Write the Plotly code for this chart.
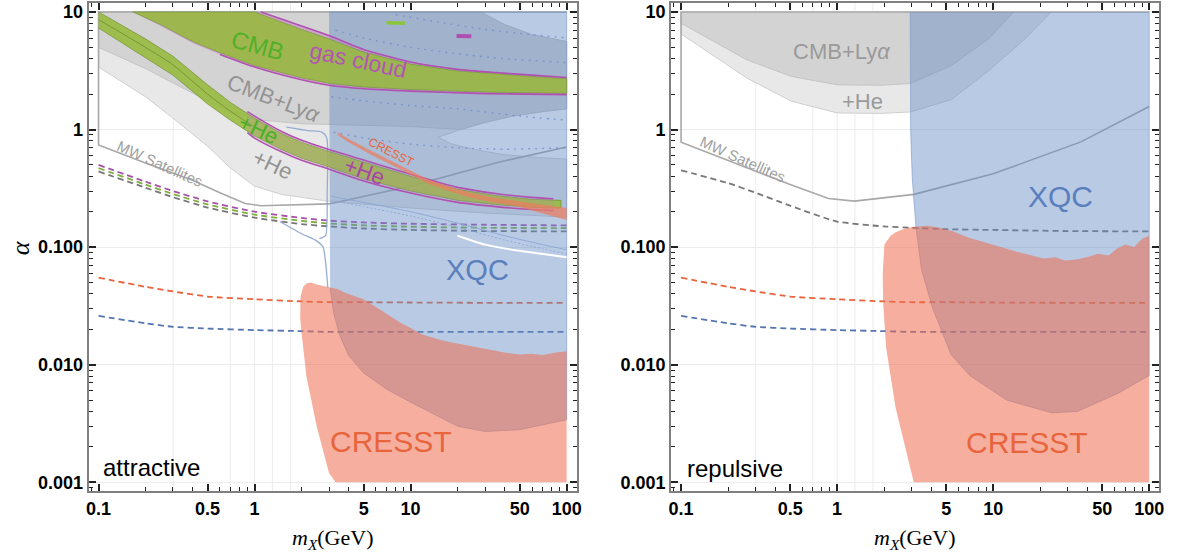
import math
import plotly.graph_objects as go

# ---------------- data ----------------
X_TICKS = [0.1, 0.5, 1, 5, 10, 50, 100]
X_TICK_TEXT = ["0.1", "0.5", "1", "5", "10", "50", "100"]
Y_TICKS = [0.001, 0.01, 0.1, 1, 10]
Y_TICK_TEXT = ["0.001", "0.010", "0.100", "1", "10"]
GRID_X = [0.5, 1, 2, 5, 10, 20, 50]

# dashed curves (both panels share x samples)
DASH_X = [0.1, 0.2, 0.3, 0.5, 1, 2, 3, 5, 10, 30, 100]
ORANGE_DASH = [0.055, 0.046, 0.042, 0.038, 0.036, 0.0345, 0.034, 0.034, 0.0338, 0.0336, 0.0335]
BLUE_DASH = [0.026, 0.0225, 0.021, 0.0203, 0.0197, 0.0193, 0.019, 0.019, 0.019, 0.019, 0.019]
PURPLE_DASH_L = [0.50, 0.36, 0.30, 0.245, 0.20, 0.177, 0.168, 0.162, 0.158, 0.155, 0.153]
GREEN_DASH_L = [0.47, 0.34, 0.283, 0.231, 0.189, 0.167, 0.159, 0.153, 0.149, 0.146, 0.145]
GRAY_DASH_L = [0.44, 0.32, 0.266, 0.217, 0.178, 0.157, 0.15, 0.144, 0.14, 0.137, 0.136]
GRAY_DASH_R = [0.45, 0.35, 0.29, 0.225, 0.165, 0.15, 0.146, 0.142, 0.14, 0.137, 0.136]

# MW satellites curves
MW_L_X = [0.1, 0.2, 0.4, 0.6, 0.87, 1.1, 3, 10, 35, 100]
MW_L_Y = [0.74, 0.52, 0.37, 0.29, 0.235, 0.225, 0.233, 0.33, 0.52, 0.71]
MW_R_X = [0.1, 0.265, 0.5, 0.88, 1.29, 3.11, 10, 36.5, 100]
MW_R_Y = [0.78, 0.47, 0.34, 0.259, 0.246, 0.281, 0.42, 0.785, 1.57]

# ---- attractive panel: CMB+Ly-alpha (+He) gray regions
CUT_X = [28, 40, 60, 100]
CUT_Y = [10, 7.8, 6.4, 5.6]
ELL_TOP_X = [100, 70, 45, 30, 21, 15]
ELL_TOP_Y = [1.5, 1.42, 1.3, 1.15, 1.0, 0.86]
ELL_BOT_X = [18, 25, 40, 70, 100]
ELL_BOT_Y = [0.76, 0.68, 0.61, 0.575, 0.56]
HE_LO_X = [0.1, 0.2, 0.3, 0.5, 0.7, 1, 1.5, 2, 3, 10, 30, 100]
HE_LO_Y = [3.4, 1.9, 1.25, 0.72, 0.47, 0.33, 0.28, 0.265, 0.245, 0.215, 0.195, 0.18]
DARK_LO_X = [0.1, 0.2, 0.3, 0.5, 0.7, 1, 2, 3, 10]
DARK_LO_Y = [5.0, 3.3, 2.5, 1.75, 1.4, 1.22, 1.12, 1.1, 1.06]

# ---- attractive: CMB / gas cloud upper band
GAS1_UP_X = [1.1, 2, 3, 5, 10, 20, 35, 60, 100]
GAS1_UP_Y = [10, 7.6, 6.3, 4.8, 3.75, 3.25, 3.05, 2.9, 2.77]
GAS1_LO_X = [0.166, 0.25, 0.4, 0.6, 1, 2, 3, 5, 10, 30, 100]
GAS1_LO_Y = [10, 7.6, 5.45, 4.35, 3.4, 2.65, 2.38, 2.22, 2.12, 2.02, 1.98]
GREEN1_UP_X = [1.0, 2, 3, 5, 10, 20, 35, 60, 100]
GREEN1_UP_Y = [10, 7.1, 5.9, 4.55, 3.6, 3.15, 2.97, 2.83, 2.7]
GREEN1_LO_Y = [10, 7.8, 5.6, 4.5, 3.5, 2.75, 2.47, 2.3, 2.19, 2.08, 2.03]

# ---- attractive: +He lower band
LB_X = [0.1, 0.2, 0.3, 0.5, 0.7, 1, 1.5, 2, 3, 5, 10, 20, 35, 60, 92]
LB_UP = [10, 5.9, 4.2, 2.4, 1.7, 1.25, 0.92, 0.78, 0.65, 0.53, 0.4, 0.31, 0.275, 0.255, 0.25]
LB_LO = [7.3, 4.1, 2.9, 1.65, 1.2, 0.88, 0.67, 0.57, 0.48, 0.38, 0.3, 0.25, 0.23, 0.218, 0.215]
LB_MID_X = [0.1, 0.2, 0.3, 0.5, 0.7, 1]
LB_MID_Y = [8.6, 5.0, 3.55, 2.0, 1.43, 1.05]
GAS2_X = [0.9, 1, 1.5, 2, 3, 5, 10, 20, 35, 60, 82]
GAS2_UP = [1.42, 1.3, 0.957, 0.81, 0.676, 0.551, 0.416, 0.322, 0.286, 0.265, 0.258]
GAS2_LO = [0.94, 0.845, 0.643, 0.547, 0.46, 0.365, 0.288, 0.24, 0.221, 0.209, 0.205]

# ---- attractive: CRESST streak
STREAK_X = [3.4, 4, 5.5, 8, 13, 18, 24, 35, 47, 65, 80, 100]
STREAK_UP = [0.95, 0.83, 0.665, 0.52, 0.375, 0.325, 0.29, 0.262, 0.248, 0.232, 0.222, 0.215]
STREAK_LO = [0.9, 0.78, 0.615, 0.48, 0.345, 0.297, 0.263, 0.238, 0.224, 0.2, 0.185, 0.17]

# ---- attractive: XQC & CRESST
XQC_L_X = [3.0, 100, 100, 50, 30, 20, 10, 7, 5, 4, 3.5, 3.2, 3.05]
XQC_L_Y = [10, 10, 0.0034, 0.0028, 0.0027, 0.003, 0.0048, 0.0062, 0.0085, 0.012, 0.018, 0.028, 0.045]
CR_L_TOP_X = [1.97, 2.05, 2.15, 2.3, 2.5, 2.7, 3.0, 3.4, 3.8, 4.4, 5, 6, 7, 8.5, 10, 12, 15, 18,
              22, 27, 33, 40, 50, 60, 70, 85, 100]
CR_L_TOP_Y = [0.038, 0.046, 0.049, 0.05, 0.048, 0.047, 0.045, 0.044, 0.041, 0.038, 0.036, 0.031,
              0.027, 0.023, 0.0205, 0.018, 0.0165, 0.0155, 0.0148, 0.014, 0.0133, 0.0127, 0.0122,
              0.0124, 0.0121, 0.0127, 0.013]
CR_L_SIDE_X = [1.97, 1.96, 2.0, 2.15, 2.5, 3.0, 3.3]
CR_L_SIDE_Y = [0.038, 0.025, 0.0186, 0.0079, 0.003, 0.0012, 0.001]

# XQC auxiliary contours (attractive)
XC1_X = [1.45, 2, 2.5, 2.75, 2.85, 2.95]
XC1_Y = [0.165, 0.13, 0.113, 0.1, 0.075, 0.045]
XC2_X = [2.6, 2.85, 2.92, 2.9, 2.7, 2.2, 1.6]
XC2_Y = [0.118, 0.125, 0.3, 0.85, 0.95, 0.98, 1.05]
LAD_X = [3.1, 5, 10, 20, 40, 70, 100]
LAD_Y1 = [0.27, 0.24, 0.2, 0.16, 0.125, 0.105, 0.095]
LAD_Y2 = [0.25, 0.221, 0.184, 0.147, 0.115, 0.097, 0.087]
WHITE_X = [20, 30, 50, 100]
WHITE_Y = [0.125, 0.105, 0.093, 0.082]
DOT_SETS = [
    ([3.3, 5, 10, 20, 40, 100], [7.0, 6.0, 5.0, 4.4, 4.0, 3.7]),
    ([8, 15, 30, 60, 100], [9.5, 8.2, 7.1, 6.4, 6.0]),
    ([3.1, 5, 10, 20, 50, 100], [1.9, 1.75, 1.6, 1.5, 1.3, 1.2]),
    ([3.2, 5, 10, 20, 40, 100], [0.95, 0.85, 0.75, 0.7, 0.68, 0.7]),
]
GREEN_MARK_X = [7.0, 9.2]
GREEN_MARK_Y = [8.1, 8.0]
PURPLE_MARK_X = [19.7, 24.5]
PURPLE_MARK_Y = [6.25, 6.2]

# ---- repulsive panel
R_HE_LO_X = [0.1, 0.265, 0.51, 1.0, 1.9, 2.94, 5.4, 9.3, 16, 23.6]
R_HE_LO_Y = [6.5, 2.73, 1.74, 1.385, 1.37, 1.41, 1.8, 3.14, 5.9, 10]
R_DARK_LO_X = [0.1, 0.265, 0.51, 1.0, 1.9, 2.94, 5.4, 9.3, 13.6]
R_DARK_LO_Y = [8.0, 3.9, 2.83, 2.4, 2.38, 2.46, 3.5, 5.87, 10]
R_XQC_X = [2.94, 2.96, 3.03, 3.2, 3.47, 4.1, 5.37, 7.06, 12.2, 23.6, 34.6, 63, 100, 100]
R_XQC_Y = [10, 1.0, 0.39, 0.149, 0.065, 0.030, 0.0122, 0.0081, 0.005, 0.0039, 0.004, 0.0057, 0.0081, 10]
R_CR_TOP_X = [2.01, 2.2, 2.37, 2.7, 3.1, 3.8, 4.5, 5.4, 7, 9.8, 12, 14.4, 17, 21, 25, 29, 35, 41,
              47, 55, 62, 70, 80, 90, 100]
R_CR_TOP_Y = [0.105, 0.125, 0.134, 0.143, 0.149, 0.152, 0.147, 0.138, 0.12, 0.105, 0.098, 0.091,
              0.086, 0.08, 0.082, 0.077, 0.079, 0.083, 0.088, 0.085, 0.097, 0.105, 0.1, 0.118, 0.125]
R_CR_SIDE_X = [2.01, 1.96, 1.97, 2.06, 2.37, 2.78, 3.1]
R_CR_SIDE_Y = [0.105, 0.06, 0.0346, 0.014, 0.0043, 0.0018, 0.001]

# ---------------- styling ----------------
LIGHT_GRAY = "#e8e8e8"
DARK_GRAY = "#d3d3d3"
XQC_FILL = "rgba(100,140,195,0.45)"
CRESST_FILL = "rgba(238,110,80,0.55)"
GREEN_FILL = "rgba(150,185,60,0.88)"
PURPLE = "#b050b0"
GAS_FILL = "rgba(200,130,200,0.55)"

fig = go.Figure()
AX_L = ("x", "y")
AX_R = ("x2", "y2")


def poly(xs, ys, fill, ax, lc="rgba(0,0,0,0)", lw=0):
    fig.add_trace(go.Scatter(x=xs, y=ys, mode="lines", fill="toself", fillcolor=fill,
                             line=dict(color=lc, width=lw), xaxis=ax[0], yaxis=ax[1],
                             hoverinfo="skip", showlegend=False))


def line(xs, ys, color, ax, width=1.5, dash="solid", shape="spline"):
    fig.add_trace(go.Scatter(x=xs, y=ys, mode="lines",
                             line=dict(color=color, width=width, dash=dash, shape=shape, smoothing=0.6),
                             xaxis=ax[0], yaxis=ax[1], hoverinfo="skip", showlegend=False))


def rev(a):
    return list(a)[::-1]


# ================= LEFT (attractive) =================
poly([0.1] + CUT_X + ELL_TOP_X + ELL_BOT_X + rev(HE_LO_X),
     [10] + CUT_Y + ELL_TOP_Y + ELL_BOT_Y + rev(HE_LO_Y), LIGHT_GRAY, AX_L, "#cfcfcf", 1)
poly([0.1] + CUT_X + ELL_TOP_X[:-1] + rev(DARK_LO_X),
     [10] + CUT_Y + ELL_TOP_Y[:-1] + rev(DARK_LO_Y), DARK_GRAY, AX_L, "#c4c4c4", 1)

# MW satellites outline
line(rev(MW_L_X) + [0.1, 100], rev(MW_L_Y) + [10, 10], "#a8a8a8", AX_L, 1.6, shape="linear")

# dashed lines
for ys, col in [(PURPLE_DASH_L, "#a650a8"), (GREEN_DASH_L, "#7fae3c"), (GRAY_DASH_L, "#777777"),
                (ORANGE_DASH, "#e8643c"), (BLUE_DASH, "#5575b0")]:
    line(DASH_X, ys, col, AX_L, 1.8, dash="6px,4px")

# XQC and CRESST
poly(XQC_L_X, XQC_L_Y, XQC_FILL, AX_L, "rgba(120,150,200,0.6)", 1)
poly(CR_L_TOP_X + [100] + rev(CR_L_SIDE_X), CR_L_TOP_Y + [0.001] + rev(CR_L_SIDE_Y),
     CRESST_FILL, AX_L)

# XQC auxiliary contours
line(XC1_X, XC1_Y, "rgba(140,165,210,0.9)", AX_L, 1.3)
line(XC2_X, XC2_Y, "rgba(140,165,210,0.9)", AX_L, 1.3)
line(LAD_X, LAD_Y1, "rgba(140,165,215,0.9)", AX_L, 1.0)
line(LAD_X, LAD_Y2, "rgba(140,165,215,0.9)", AX_L, 1.0, dash="2px,2px")
line(WHITE_X, WHITE_Y, "white", AX_L, 2)
for dx, dy in DOT_SETS:
    line(dx, dy, "rgba(110,140,200,0.75)", AX_L, 1.4, dash="2px,5px")

# CMB / gas cloud upper band
poly([GAS1_LO_X[0]] + GAS1_UP_X + rev(GAS1_LO_X), [10] + GAS1_UP_Y + rev(GAS1_LO_Y), GAS_FILL, AX_L)
poly([GAS1_LO_X[0]] + GREEN1_UP_X + rev(GAS1_LO_X), [10] + GREEN1_UP_Y + rev(GREEN1_LO_Y),
     GREEN_FILL, AX_L, "rgba(120,150,50,0.8)", 0.8)
line(GAS1_UP_X, GAS1_UP_Y, PURPLE, AX_L, 1.6)
line(GAS1_LO_X[3:], GAS1_LO_Y[3:], PURPLE, AX_L, 1.6)

# +He lower band
poly(LB_X + rev(LB_X), LB_UP + rev(LB_LO), GREEN_FILL, AX_L, "rgba(110,140,45,0.8)", 0.8)
line(LB_MID_X, LB_MID_Y, "rgba(110,140,45,0.8)", AX_L, 1.0)
poly(GAS2_X + rev(GAS2_X), GAS2_UP + rev(GAS2_LO), "rgba(200,130,200,0.18)", AX_L)
line(GAS2_X, GAS2_UP, PURPLE, AX_L, 1.6)
line(GAS2_X, GAS2_LO, PURPLE, AX_L, 1.6)

# CRESST streak (attractive)
poly(STREAK_X + rev(STREAK_X), STREAK_UP + rev(STREAK_LO), "rgba(236,125,95,0.72)", AX_L)

line(GREEN_MARK_X, GREEN_MARK_Y, "#8cc43c", AX_L, 3.5, shape="linear")
line(PURPLE_MARK_X, PURPLE_MARK_Y, "#b04fb0", AX_L, 4, shape="linear")

# ================= RIGHT (repulsive) =================
poly([0.1] + R_HE_LO_X, [10] + R_HE_LO_Y, LIGHT_GRAY, AX_R, "#cfcfcf", 1)
poly([0.1] + R_DARK_LO_X, [10] + R_DARK_LO_Y, DARK_GRAY, AX_R, "#c4c4c4", 1)
line(rev(MW_R_X) + [0.1, 100], rev(MW_R_Y) + [10, 10], "#a8a8a8", AX_R, 1.6, shape="linear")
for ys, col in [(GRAY_DASH_R, "#777777"), (ORANGE_DASH, "#e8643c"), (BLUE_DASH, "#5575b0")]:
    line(DASH_X, ys, col, AX_R, 1.8, dash="6px,4px")
poly(R_XQC_X, R_XQC_Y, XQC_FILL, AX_R, "rgba(120,150,200,0.6)", 1)
poly(R_CR_TOP_X + [100] + rev(R_CR_SIDE_X), R_CR_TOP_Y + [0.001] + rev(R_CR_SIDE_Y),
     CRESST_FILL, AX_R)

# ---------------- text ----------------
SANS = "Liberation Sans, Arial, sans-serif"
SERIF = "Liberation Serif, Times New Roman, serif"
L = math.log10
annotations = []


def label(text, xv, yv, color, size, ax, angle=0, xanchor="center"):
    annotations.append(dict(text=text, x=L(xv), y=L(yv), xref=ax[0], yref=ax[1], showarrow=False,
                            textangle=angle, xanchor=xanchor, yanchor="middle",
                            font=dict(family=SANS, size=size, color=color)))


label("CMB", 1.05, 5.2, "#52b02a", 24, AX_L, 15)
label("gas cloud", 4.57, 3.9, "#b455b4", 23, AX_L, 12)
label("CMB+Ly<i>α</i>", 1.33, 1.84, "#939393", 22, AX_L, 21)
label("+He", 1.06, 1.0, "#4caf28", 22, AX_L, 25)
label("+He", 1.3, 0.5, "#939393", 22, AX_L, 25)
label("+He", 5.1, 0.44, "#a845a8", 22, AX_L, 20)
label("MW Satellites", 0.246, 0.51, "#a0a0a0", 15, AX_L, 24)
label("CRESST", 7.5, 0.65, "#e8643c", 12, AX_L, 27)
label("XQC", 27, 0.064, "#5b7fbd", 29, AX_L)
label("CRESST", 7.45, 0.00224, "#e8643c", 30, AX_L)
label("attractive", 0.104, 0.00134, "black", 24, AX_L, xanchor="left")

label("CMB+Ly<i>α</i>", 1.07, 4.6, "#9a9a9a", 22, AX_R)
label("+He", 1.45, 1.74, "#9a9a9a", 22, AX_R)
label("MW Satellites", 0.251, 0.56, "#a0a0a0", 15, AX_R, 24)
label("XQC", 27, 0.268, "#5b7fbd", 30, AX_R)
label("CRESST", 16.5, 0.0022, "#e8643c", 30, AX_R)
label("repulsive", 0.1056, 0.00131, "black", 24, AX_R, xanchor="left")

# axis titles
XTITLE = "<i>m</i><sub><i>X</i></sub>(GeV)"
for cx in [0.2804, 0.7740]:
    annotations.append(dict(text=XTITLE, x=cx, y=0.029, xref="paper", yref="paper", showarrow=False,
                            xanchor="center", yanchor="middle",
                            font=dict(family=SERIF, size=22, color="black")))
annotations.append(dict(text="<i>α</i>", x=0.0155, y=0.554, xref="paper", yref="paper",
                        showarrow=False, textangle=-90, xanchor="center", yanchor="middle",
                        font=dict(family=SERIF, size=26, color="black")))

# ---------------- axes ----------------
MINOR_X = [m * 10 ** k for k in range(-2, 3) for m in range(2, 10) if m != 5]
MINOR_Y = [m * 10 ** k for k in range(-4, 2) for m in range(2, 10)]
TICKFONT = dict(family=SANS, size=18, color="black", weight="bold")


def xaxis(domain, anchor):
    return dict(type="log", range=[-1.064, 2.064], domain=domain, anchor=anchor,
                tickmode="array", tickvals=X_TICKS, ticktext=X_TICK_TEXT,
                ticks="inside", ticklen=7, tickwidth=1.5, tickcolor="#222",
                showline=True, linecolor="#808080", linewidth=2, mirror="ticks",
                showgrid=False, zeroline=False, tickfont=TICKFONT,
                minor=dict(tickvals=MINOR_X, ticks="inside", ticklen=4, tickwidth=1.2,
                           tickcolor="#222", showgrid=False))


def yaxis(anchor):
    return dict(type="log", range=[-3.076, 1.076], domain=[0.1151, 0.9964], anchor=anchor,
                tickmode="array", tickvals=Y_TICKS, ticktext=Y_TICK_TEXT,
                ticks="inside", ticklen=7, tickwidth=1.5, tickcolor="#222",
                showline=True, linecolor="#808080", linewidth=2, mirror="ticks",
                showgrid=True, gridcolor="#ececec", gridwidth=1, zeroline=False, tickfont=TICKFONT,
                minor=dict(tickvals=MINOR_Y, ticks="inside", ticklen=4, tickwidth=1.2,
                           tickcolor="#222", showgrid=False))


shapes = []
for xref, yref in [("x", "y domain"), ("x2", "y2 domain")]:
    for gx in GRID_X:
        shapes.append(dict(type="line", xref=xref, yref=yref, x0=L(gx), x1=L(gx), y0=0, y1=1,
                           line=dict(color="#ececec", width=1), layer="below"))

fig.update_layout(
    width=1186, height=556, margin=dict(l=0, r=0, t=0, b=0),
    paper_bgcolor="white", plot_bgcolor="white",
    xaxis=xaxis([0.0734, 0.4874], "y"), yaxis=yaxis("x"),
    xaxis2=xaxis([0.5675, 0.9815], "y2"), yaxis2=yaxis("x2"),
    annotations=annotations, shapes=shapes, showlegend=False, hovermode=False,
)

fig.write_html("out.html", config={"displayModeBar": False})
